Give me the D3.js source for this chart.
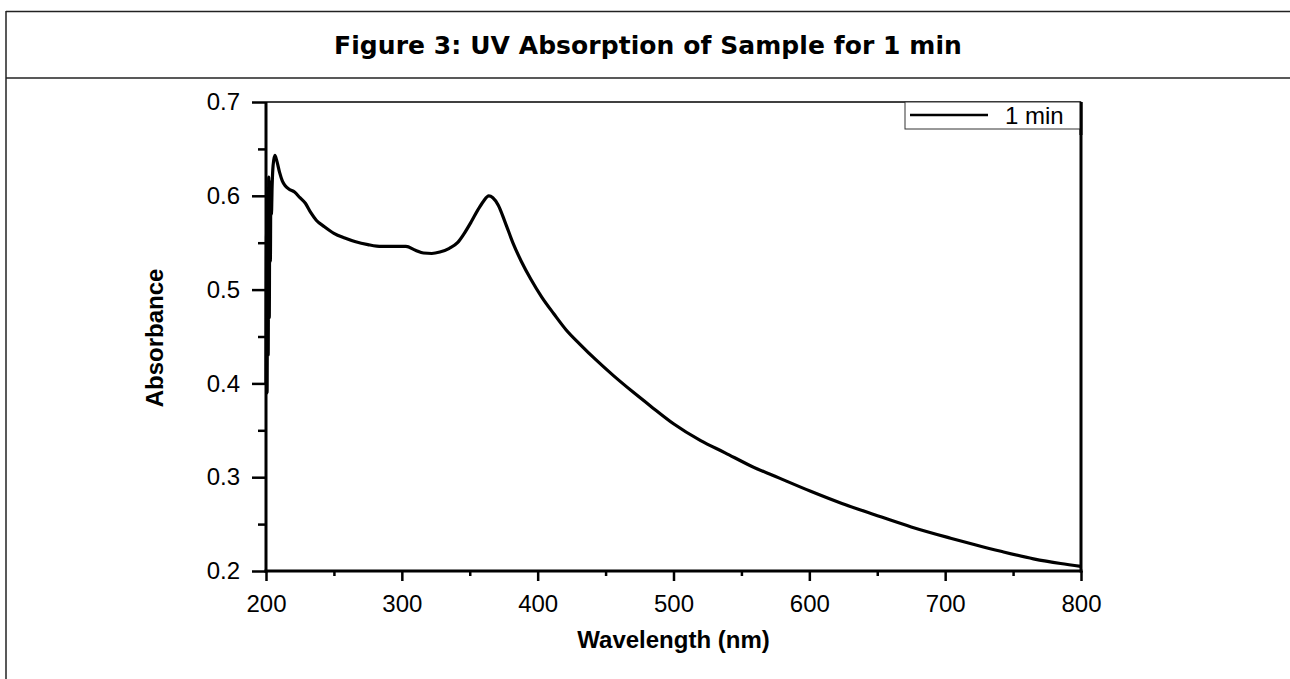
<!DOCTYPE html>
<html>
<head>
<meta charset="utf-8">
<title>UV Absorption</title>
<script src="https://d3js.org/d3.v7.min.js"></script>
<style>
  body { margin: 0; background: #fff; }
  .tick text { font-family: "Liberation Sans", Arial, sans-serif; font-size: 24px; fill: #000; }
</style>
</head>
<body>
<div id="chart"></div>
<script>
// spectrum (noisy start near 200 nm)
var wavelength = [200, 200.4, 200.8, 201.2, 201.6, 202, 202.4, 202.8, 203.2, 203.6, 204, 204.5, 205.2, 206.5, 208, 210, 212, 214, 217, 221, 225, 229,
  233, 237, 243, 250, 258, 266, 275, 285, 295, 303, 310, 316, 322, 328, 335, 341, 346, 351, 356, 360,
  364, 367, 371, 376, 382, 388, 395, 403, 412, 421, 431, 443, 456, 470, 483, 500, 520, 538, 557, 578,
  601, 624, 648, 675, 704, 722, 741, 765, 785, 800];
var absorbance = [0.40, 0.56, 0.39, 0.60, 0.43, 0.62, 0.47, 0.61, 0.53, 0.615, 0.58, 0.61, 0.632, 0.643, 0.637, 0.625, 0.616, 0.611, 0.607, 0.604, 0.598, 0.592,
  0.582, 0.574, 0.567, 0.560, 0.555, 0.551, 0.548, 0.546, 0.546, 0.546, 0.542, 0.539, 0.5385, 0.540, 0.544, 0.550, 0.560, 0.572, 0.585, 0.594,
  0.600, 0.598, 0.590, 0.572, 0.549, 0.530, 0.511, 0.492, 0.474, 0.457, 0.442, 0.425, 0.408, 0.391, 0.376, 0.357, 0.339, 0.326, 0.312, 0.299,
  0.285, 0.272, 0.260, 0.247, 0.235, 0.228, 0.221, 0.213, 0.208, 0.205];

var xTicks = [200, 300, 400, 500, 600, 700, 800];
var xMinor = [250, 350, 450, 550, 650, 750];
var yTicks = [0.2, 0.3, 0.4, 0.5, 0.6, 0.7];
var yMinor = [0.25, 0.35, 0.45, 0.55, 0.65];

var titleText = "Figure 3: UV Absorption of Sample for 1 min";
var seriesName = "1 min";

var W = 1290, H = 679;
var margin = {left: 266, right: 1081, top: 102, bottom: 571};

var svg = d3.select("#chart").append("svg")
  .attr("width", W).attr("height", H);

svg.append("rect").attr("width", W).attr("height", H).attr("fill", "#fff");

// outer frame and title band
svg.append("line").attr("x1", 6).attr("x2", W).attr("y1", 11.5).attr("y2", 11.5)
  .attr("stroke", "#222").attr("stroke-width", 1.5);
svg.append("line").attr("x1", 6).attr("x2", W).attr("y1", 78).attr("y2", 78)
  .attr("stroke", "#222").attr("stroke-width", 1.5);
svg.append("line").attr("x1", 6).attr("x2", 6).attr("y1", 11).attr("y2", H)
  .attr("stroke", "#222").attr("stroke-width", 1.5);

var title = svg.append("text")
  .attr("x", 648).attr("y", 54)
  .attr("text-anchor", "middle")
  .style("font-family", "'DejaVu Sans', Verdana, sans-serif")
  .style("font-weight", "bold")
  .style("font-size", "25px")
  .text(titleText);
// tighten letter spacing so the title spans the same width as in the picture
var tw = title.node().getComputedTextLength();
title.style("letter-spacing", ((628 - tw) / (titleText.length - 1)).toFixed(2) + "px");

var x = d3.scaleLinear().domain([200, 800]).range([margin.left, margin.right]);
var y = d3.scaleLinear().domain([0.2, 0.7]).range([margin.bottom, margin.top]);

// y axis ticks
svg.append("g").attr("transform", "translate(" + margin.left + ",0)")
  .call(d3.axisLeft(y).tickValues(yTicks).tickSize(14).tickPadding(12).tickFormat(d3.format(".1f")));
svg.append("g").attr("transform", "translate(" + margin.left + ",0)")
  .call(d3.axisLeft(y).tickValues(yMinor).tickSize(8).tickFormat(""));

// x axis ticks
svg.append("g").attr("transform", "translate(0," + margin.bottom + ")")
  .call(d3.axisBottom(x).tickValues(xTicks).tickSize(10).tickPadding(14).tickFormat(d3.format("d")));
svg.append("g").attr("transform", "translate(0," + margin.bottom + ")")
  .call(d3.axisBottom(x).tickValues(xMinor).tickSize(5).tickFormat(""));

svg.selectAll(".domain").remove();
svg.selectAll(".tick line").attr("stroke", "#000").attr("stroke-width", 2.5);

// plot frame: thin top, thick others
svg.append("line").attr("x1", margin.left).attr("x2", margin.right).attr("y1", margin.top).attr("y2", margin.top)
  .attr("stroke", "#000").attr("stroke-width", 1.5);
svg.append("line").attr("x1", margin.left).attr("x2", margin.left).attr("y1", margin.top).attr("y2", margin.bottom + 1.5)
  .attr("stroke", "#000").attr("stroke-width", 3);
svg.append("line").attr("x1", margin.right).attr("x2", margin.right).attr("y1", margin.top).attr("y2", margin.bottom + 1.5)
  .attr("stroke", "#000").attr("stroke-width", 3);
svg.append("line").attr("x1", margin.left - 1.5).attr("x2", margin.right + 1.5).attr("y1", margin.bottom).attr("y2", margin.bottom)
  .attr("stroke", "#000").attr("stroke-width", 3);

// the spectrum
var pts = wavelength.map(function(w, i) { return [w, absorbance[i]]; });
var line = d3.line()
  .x(function(d) { return x(d[0]); })
  .y(function(d) { return y(d[1]); })
  .curve(d3.curveMonotoneX);
svg.append("path").datum(pts)
  .attr("d", line)
  .attr("fill", "none")
  .attr("stroke", "#000")
  .attr("stroke-width", 3.2)
  .attr("stroke-linejoin", "round");

// legend box
var lg = svg.append("g");
lg.append("rect").attr("x", 905).attr("y", 102).attr("width", margin.right - 905).attr("height", 27)
  .attr("fill", "#fff").attr("stroke", "#333").attr("stroke-width", 1);
lg.append("line").attr("x1", 910).attr("x2", 988).attr("y1", 115).attr("y2", 115)
  .attr("stroke", "#000").attr("stroke-width", 2.5);
lg.append("text").attr("x", 1005).attr("y", 124)
  .style("font-family", "'Liberation Sans', Arial, sans-serif").style("font-size", "24px")
  .text(seriesName);
svg.append("line").attr("x1", margin.right).attr("x2", margin.right).attr("y1", margin.top).attr("y2", 135)
  .attr("stroke", "#000").attr("stroke-width", 3);

// axis titles
svg.append("text")
  .attr("x", (margin.left + margin.right) / 2).attr("y", 648)
  .attr("text-anchor", "middle")
  .style("font-family", "'Liberation Sans', Arial, sans-serif")
  .style("font-weight", "bold").style("font-size", "24px")
  .text("Wavelength (nm)");

svg.append("text")
  .attr("transform", "translate(163," + 338 + ") rotate(-90)")
  .attr("text-anchor", "middle")
  .style("font-family", "'Liberation Sans', Arial, sans-serif")
  .style("font-weight", "bold").style("font-size", "24px")
  .text("Absorbance");
</script>
</body>
</html>
